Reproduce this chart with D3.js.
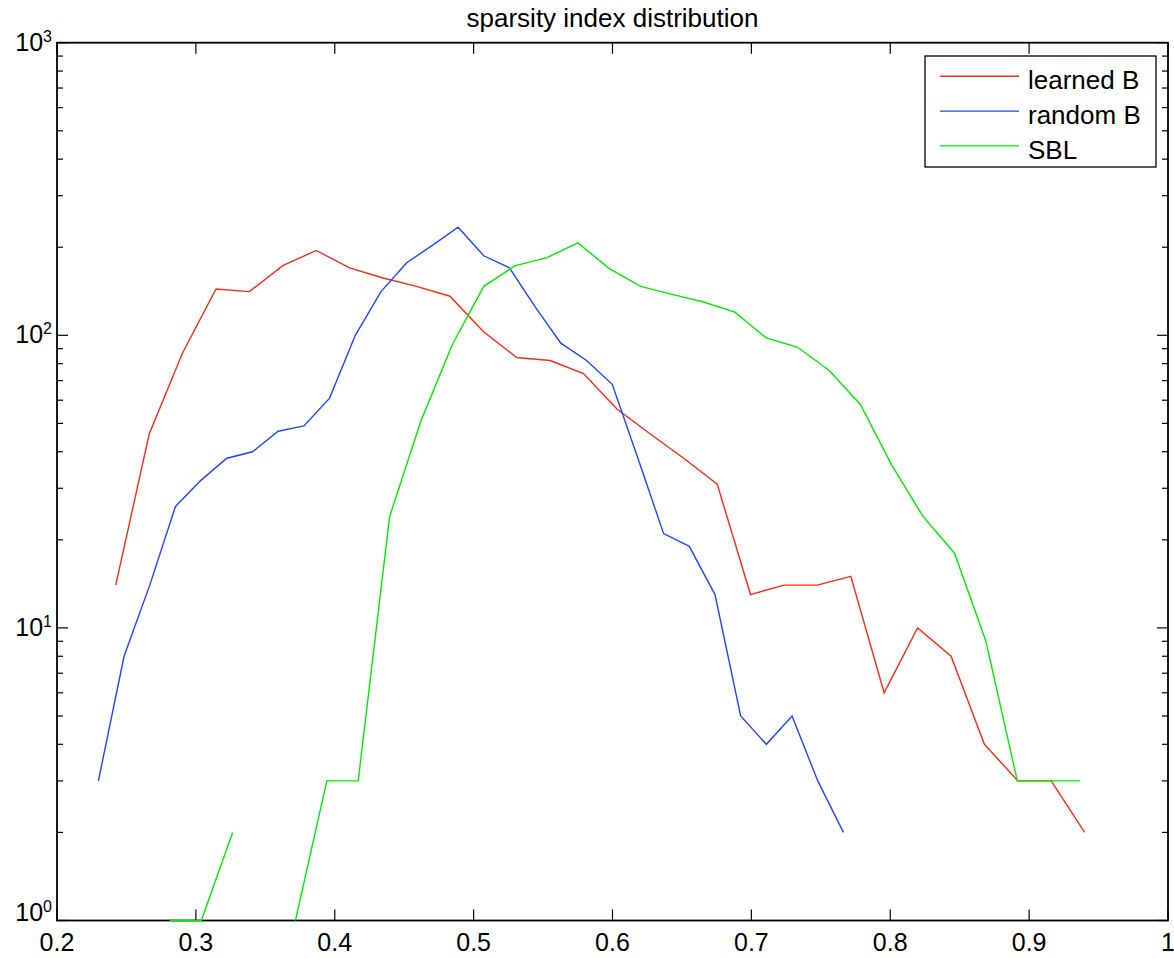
<!DOCTYPE html>
<html>
<head>
<meta charset="utf-8">
<script src="https://cdn.jsdelivr.net/npm/d3@7"></script>
<style>
  body { margin: 0; background: #fff; }
  text { font-family: "Liberation Sans", Arial, Helvetica, sans-serif; fill: #000; }
</style>
</head>
<body>
<div id="chart"></div>
<script>
// values (counts per bin, log scale)
const learnedX = [0.2423, 0.2664, 0.2904, 0.3145, 0.3385, 0.3626, 0.3867, 0.4107, 0.4348, 0.4588,
                  0.4829, 0.5070, 0.5310, 0.5551, 0.5791, 0.6032, 0.6272, 0.6513, 0.6754, 0.6994,
                  0.7235, 0.7475, 0.7716, 0.7956, 0.8197, 0.8438, 0.8678, 0.8919, 0.9159, 0.9400];
const learnedY = [14, 46, 87, 144, 141, 173, 195, 170, 157, 147,
                  136, 103, 84, 82, 74, 56, 46, 38, 31, 13,
                  14, 14, 15, 6, 10, 8, 4, 3, 3, 2];

const randomX = [0.2298, 0.2483, 0.2668, 0.2853, 0.3038, 0.3223, 0.3408, 0.3593, 0.3778, 0.3963,
                 0.4148, 0.4333, 0.4518, 0.4703, 0.4888, 0.5073, 0.5258, 0.5443, 0.5628, 0.5813,
                 0.5998, 0.6183, 0.6368, 0.6553, 0.6738, 0.6923, 0.7108, 0.7293, 0.7478, 0.7663];
const randomY = [3, 8, 14, 26, 32, 38, 40, 47, 49, 61,
                 100, 141, 177, 203, 234, 187, 170, 125, 94, 82,
                 68, 38, 21, 19, 13, 5, 4, 5, 3, 2];

const sblX = [0.2813, 0.3039, 0.3265, 0.3491, 0.3717, 0.3943, 0.4169, 0.4395, 0.4621, 0.4847,
              0.5073, 0.5299, 0.5525, 0.5751, 0.5977, 0.6203, 0.6429, 0.6655, 0.6881, 0.7107,
              0.7333, 0.7559, 0.7785, 0.8011, 0.8237, 0.8463, 0.8689, 0.8915, 0.9141, 0.9367];
const sblY = [1, 1, 2, 0, 1, 3, 3, 24, 51, 93,
              147, 173, 184, 207, 169, 147, 138, 130, 120, 98,
              91, 76, 58, 36, 24, 18, 9, 3, 3, 3];

const seriesNames = ['learned B', 'random B', 'SBL'];
const seriesColors = ['#ff2a10', '#1f45ff', '#00ee00'];
const xTicks = [0.2, 0.3, 0.4, 0.5, 0.6, 0.7, 0.8, 0.9, 1];
const yTicks = [1, 10, 100, 1000];

const width = 1174, height = 958;
const margin = {left: 57, right: 6, top: 42.7, bottom: 37.5};

const svg = d3.select('#chart').append('svg')
    .attr('width', width)
    .attr('height', height);

const x = d3.scaleLinear().domain([0.2, 1]).range([margin.left, width - margin.right]);
const y = d3.scaleLog().domain([1, 1000]).range([height - margin.bottom, margin.top]);

const x0 = x.range()[0], x1 = x.range()[1];
const y0 = y.range()[0], y1 = y.range()[1];

// title
svg.append('text')
    .attr('x', (x0 + x1) / 2)
    .attr('y', 27)
    .attr('text-anchor', 'middle')
    .style('font-size', '26px')
    .text('sparsity index distribution');

// ticks (inward, mirrored on opposite sides)
const ticks = svg.append('g').attr('stroke', '#000').attr('stroke-width', 1.2);
const majorLen = 11, minorLen = 6;

xTicks.forEach(t => {
    ticks.append('line').attr('x1', x(t)).attr('x2', x(t)).attr('y1', y0).attr('y2', y0 - majorLen);
    ticks.append('line').attr('x1', x(t)).attr('x2', x(t)).attr('y1', y1).attr('y2', y1 + majorLen);
});

const minor = [];
for (let k = 1; k < 1000; k *= 10) {
    for (let m = 2; m <= 9; m++) minor.push(k * m);
}
yTicks.forEach(t => {
    ticks.append('line').attr('x1', x0).attr('x2', x0 + majorLen).attr('y1', y(t)).attr('y2', y(t));
    ticks.append('line').attr('x1', x1).attr('x2', x1 - majorLen).attr('y1', y(t)).attr('y2', y(t));
});
minor.forEach(t => {
    ticks.append('line').attr('x1', x0).attr('x2', x0 + minorLen).attr('y1', y(t)).attr('y2', y(t));
    ticks.append('line').attr('x1', x1).attr('x2', x1 - minorLen).attr('y1', y(t)).attr('y2', y(t));
});

// tick labels
svg.append('g').selectAll('text')
    .data(xTicks)
    .enter().append('text')
    .attr('x', d => x(d))
    .attr('y', 951)
    .attr('text-anchor', 'middle')
    .style('font-size', '25px')
    .text(d => String(d));

const yLab = svg.append('g').selectAll('text')
    .data(yTicks)
    .enter().append('text')
    .attr('x', 52)
    .attr('y', d => d === 1 ? y(d) : y(d) + 8)
    .attr('text-anchor', 'end')
    .style('font-size', '25px');
yLab.append('tspan').text('10');
yLab.append('tspan')
    .attr('dy', -9)
    .style('font-size', '16px')
    .text(d => String(Math.round(Math.log10(d))));

// axes box
svg.append('rect')
    .attr('x', x0).attr('y', y1)
    .attr('width', x1 - x0).attr('height', y0 - y1)
    .attr('fill', 'none')
    .attr('stroke', '#000')
    .attr('stroke-width', 1.8);

// data lines
const series = [
    learnedX.map((v, i) => ({x: v, y: learnedY[i]})),
    randomX.map((v, i) => ({x: v, y: randomY[i]})),
    sblX.map((v, i) => ({x: v, y: sblY[i]}))
];

const line = d3.line()
    .defined(d => d.y > 0)
    .x(d => x(d.x))
    .y(d => y(d.y));

svg.append('g').selectAll('path')
    .data(series)
    .enter().append('path')
    .attr('d', line)
    .attr('fill', 'none')
    .attr('stroke', (d, i) => seriesColors[i])
    .attr('stroke-width', 1.4)
    .attr('stroke-linejoin', 'miter');

// legend
const legend = svg.append('g');
legend.append('rect')
    .attr('x', 925).attr('y', 56)
    .attr('width', 231).attr('height', 111)
    .attr('fill', '#fff')
    .attr('stroke', '#000')
    .attr('stroke-width', 1.3);

seriesNames.forEach((name, i) => {
    const ly = 76.3 + i * 34.8;
    legend.append('line')
        .attr('x1', 940).attr('x2', 1019)
        .attr('y1', ly).attr('y2', ly)
        .attr('stroke', seriesColors[i])
        .attr('stroke-width', 1.4);
    legend.append('text')
        .attr('x', 1028)
        .attr('y', ly + 13)
        .style('font-size', '26px')
        .text(name);
});
</script>
</body>
</html>
